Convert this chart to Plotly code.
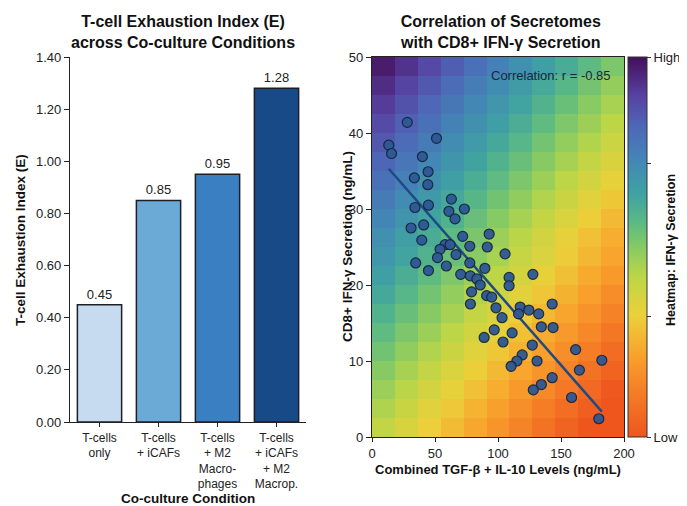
import numpy as np
import plotly.graph_objects as go

# ---------------- Data ----------------
conditions = ["T-cells<br>only", "T-cells<br>+ iCAFs", "T-cells<br>+ M2<br>Macro-<br>phages",
              "T-cells<br>+ iCAFs<br>+ M2<br>Macrop."]
exhaustion_index = [0.45, 0.85, 0.95, 1.28]
bar_colors = ["#c6dbef", "#6baad6", "#3a7fc1", "#174a86"]

tgf_il10 = [28.0, 13.3, 15.5, 51.2, 40.0, 44.5, 33.6, 44.3, 63.0, 44.8,
            34.1, 61.0, 73.3, 65.9, 41.0, 31.0, 39.5, 72.0, 93.0, 77.6,
            91.5, 105.6, 58.0, 62.0, 54.0, 52.0, 66.7, 34.7, 59.0, 77.6,
            44.8, 89.6, 70.4, 78.0, 83.2, 85.9, 108.8, 108.8, 79.0, 91.0,
            95.0, 127.7, 78.1, 98.4, 117.6, 116.3, 124.5, 132.3, 143.0, 103.2,
            134.4, 143.7, 97.0, 111.2, 89.0, 104.0, 127.2, 161.6, 119.2, 115.0,
            110.4, 131.0, 182.4, 164.6, 143.0, 134.4, 128.0, 158.4, 180.0]
ifng = [41.4, 38.4, 37.3, 39.3, 36.9, 34.9, 34.1, 33.2, 31.3, 30.5,
        30.2, 29.7, 30.0, 28.7, 27.9, 27.5, 25.9, 26.4, 26.7, 25.1,
        25.0, 24.1, 25.3, 25.3, 24.7, 23.6, 24.0, 22.9, 22.5, 22.9,
        21.9, 22.2, 21.4, 21.2, 20.8, 20.0, 21.0, 19.9, 19.1, 18.6,
        18.4, 21.4, 17.5, 17.0, 17.1, 16.2, 16.7, 16.2, 17.5, 15.7,
        14.5, 14.4, 14.1, 13.7, 13.1, 12.5, 12.1, 11.5, 10.8, 10.0,
        9.3, 10.0, 10.1, 8.8, 7.8, 6.9, 6.2, 5.2, 2.4]

# background heatmap levels: column and row contributions
heat_col_levels = [0.0, -0.046, -0.092, -0.138, -0.184, -0.23, -0.276, -0.322, -0.368, -0.414, -0.46]
heat_row_levels = [0.41, 0.44, 0.47, 0.50, 0.53, 0.56, 0.59, 0.62, 0.65, 0.68,
                   0.70, 0.73, 0.76, 0.79, 0.82, 0.85, 0.88, 0.91, 0.94, 0.975]

x_ticks = [0, 50, 100, 150, 200]
y_ticks = [0, 10, 20, 30, 40, 50]
left_y_ticks = [0.0, 0.2, 0.4, 0.6, 0.8, 1.0, 1.2, 1.4]

colorscale = [
    [0.00, "#ee561e"], [0.12, "#f57e26"], [0.22, "#f8a42d"], [0.32, "#ecd03a"],
    [0.42, "#bdd646"], [0.50, "#86ca64"], [0.57, "#58b886"], [0.64, "#3fa2a2"],
    [0.73, "#4386b6"], [0.82, "#4e66b7"], [0.90, "#5741a0"], [1.00, "#440f5b"],
]

# page body has an 8px margin: figure is drawn from (8, 8)
OFF = 8
W, H = 687 - OFF, 506 - OFF
def px(x):
    return (x - OFF) / W
def py(y):
    return 1 - (y - OFF) / H

FONT = "Arial, Liberation Sans, sans-serif"

fig = go.Figure()

# ---------------- Left: bar chart ----------------
fig.add_trace(go.Bar(
    x=conditions, y=exhaustion_index,
    marker=dict(color=bar_colors, line=dict(color="#1e1e28", width=1.5)),
    text=[f"{v:.2f}" for v in exhaustion_index], textposition="outside",
    textfont=dict(size=13, color="#222", family=FONT), cliponaxis=False,
    width=0.75, xaxis="x", yaxis="y", showlegend=False,
))

# ---------------- Right: heatmap + scatter ----------------
z = np.add.outer(np.array(heat_row_levels), np.array(heat_col_levels))
fig.add_trace(go.Heatmap(
    z=z, x0=200 / 22, dx=200 / 11, y0=1.25, dy=2.5,
    zmin=0, zmax=1, colorscale=colorscale, xaxis="x2", yaxis="y2",
    colorbar=dict(
        x=px(628), xanchor="left", y=py(57), yanchor="top", xpad=0, ypad=0,
        len=380 / H, lenmode="fraction", thickness=19, thicknessmode="pixels",
        outlinecolor="#333", outlinewidth=1,
        tickvals=[0, 0.316, 0.72, 1], ticktext=["Low", "", "", "High"],
        ticks="outside", ticklen=4, tickcolor="#333",
        tickfont=dict(size=13, color="#222", family=FONT),
    ),
))

xs = np.array(tgf_il10)
ys = np.array(ifng)
slope, intercept = np.polyfit(xs, ys, 1)
xl = np.array([xs.min(), xs.max()])
fig.add_trace(go.Scatter(
    x=xl, y=slope * xl + intercept, mode="lines",
    line=dict(color="#1f4a82", width=2.5), xaxis="x2", yaxis="y2", showlegend=False,
))
fig.add_trace(go.Scatter(
    x=tgf_il10, y=ifng, mode="markers",
    marker=dict(size=10, color="#2d5895", opacity=0.95, line=dict(color="#17253d", width=1.2)),
    xaxis="x2", yaxis="y2", showlegend=False,
))

axis_common = dict(showgrid=False, zeroline=False, ticks="outside", ticklen=5,
                   tickcolor="#222", linecolor="#222", linewidth=1.3, showline=True,
                   automargin=False,
                   tickfont=dict(size=13, color="#222", family=FONT))

left_x_axis = dict(axis_common)
left_x_axis["tickfont"] = dict(size=12, color="#222", family=FONT)
left_x_axis["ticklen"] = 4

right_x_axis = dict(axis_common)
right_x_axis["ticklen"] = 4

fig.update_layout(
    width=W, height=H, margin=dict(l=0, r=0, t=0, b=0, autoexpand=False),
    paper_bgcolor="white", plot_bgcolor="white", font=dict(family=FONT),
    bargap=0.25,
    xaxis=dict(domain=[px(70), px(306)], **left_x_axis),
    yaxis=dict(domain=[py(422), py(57)], range=[0, 1.4], tickvals=left_y_ticks,
               tickformat=".2f", **axis_common),
    xaxis2=dict(domain=[px(372), px(624)], range=[0, 200], tickvals=x_ticks, mirror=True,
                anchor="y2", **right_x_axis),
    yaxis2=dict(domain=[py(437), py(57)], range=[0, 50], tickvals=y_ticks, mirror=True,
                anchor="x2", **axis_common),
)

ann = [
    dict(x=px(183), y=py(32), text="<b>T-cell Exhaustion Index (E)<br>across Co-culture Conditions</b>",
         font=dict(size=16, color="#111")),
    dict(x=px(500), y=py(32), text="<b>Correlation of Secretomes<br>with CD8+ IFN-γ Secretion</b>",
         font=dict(size=16, color="#111")),
    dict(x=px(20), y=py(240), text="<b>T-cell Exhaustion Index (E)</b>", textangle=-90,
         font=dict(size=13.5, color="#111")),
    dict(x=px(188), y=py(498), text="<b>Co-culture Condition</b>", font=dict(size=13.5, color="#111")),
    dict(x=px(347), y=py(247), text="<b>CD8+ IFN-γ Secretion (ng/mL)</b>", textangle=-90,
         font=dict(size=13.5, color="#111")),
    dict(x=px(498), y=py(469), text="<b>Combined TGF-β + IL-10 Levels (ng/mL)</b>",
         font=dict(size=13, color="#111")),
    dict(x=px(671), y=py(250), text="<b>Heatmap: IFN-γ Secretion</b>", textangle=-90,
         font=dict(size=12.5, color="#111")),
    dict(x=px(551), y=py(75), text="Correlation: r = -0.85", font=dict(size=13, color="#1a2540")),
]
for a in ann:
    a.update(xref="paper", yref="paper", showarrow=False, xanchor="center", yanchor="middle")
    a["font"]["family"] = FONT
fig.update_layout(annotations=ann)

fig.write_html("out.html")
